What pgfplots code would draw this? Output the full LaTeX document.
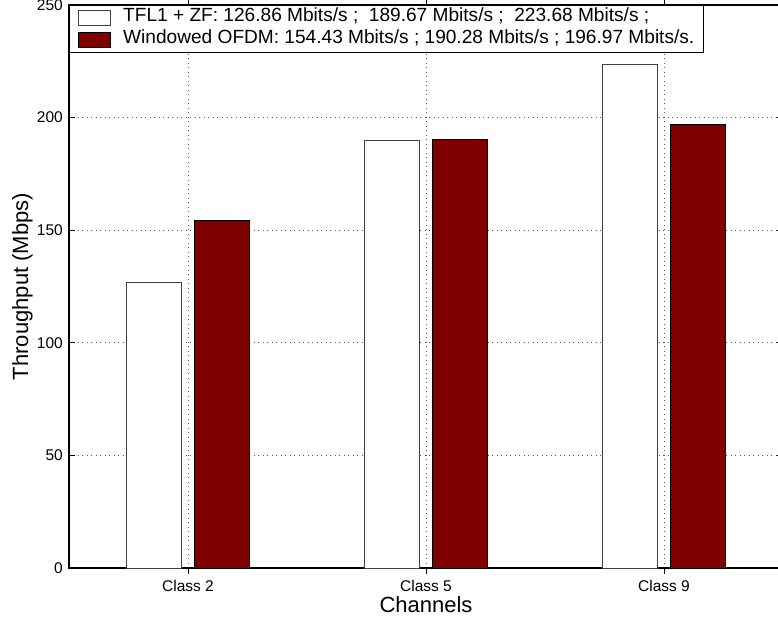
\documentclass[border=0pt]{standalone}
\usepackage{fontspec}
\setmainfont{Liberation Sans}
\usepackage{pgfplots}
\pgfplotsset{compat=1.18}
\definecolor{maroonbar}{RGB}{128,0,0}
\begin{document}
\begin{tikzpicture}
\path[use as bounding box] (-69bp,-55bp) rectangle (709bp,568bp);
\begin{axis}[
  at={(0,0)}, anchor=south west,
  scale only axis, width=714bp, height=563bp,
  xmin=0.5, xmax=3.5, ymin=0, ymax=250,
  xtick={1,2,3}, xticklabels={Class 2, Class 5, Class 9},
  ytick={0,50,100,150,200,250},
  /pgf/number format/assume math mode=true,
  grid=major,
  grid style={black!65, line width=0.8bp, dash pattern=on 1bp off 3.5bp},
  axis line style={black, line width=1.1bp},
  tick align=inside, major tick length=6bp,
  tick style={black, line width=0.8bp},
  tick label style={font=\fontsize{15.5bp}{18bp}\selectfont},
  xticklabel style={inner sep=0pt, anchor=north, yshift=-6bp},
  yticklabel style={inner sep=0pt, anchor=east, xshift=-6bp},
  xlabel={Channels},
  ylabel={Throughput (Mbps)},
  label style={font=\fontsize{22bp}{26bp}\selectfont},
  xlabel style={at={(axis description cs:0.5,-0.05)}, anchor=north, inner sep=0pt},
  ylabel style={at={(axis description cs:-0.0798,0.5)}, anchor=north, inner sep=0pt},
  ybar=13bp, bar width=55bp,
  legend cell align=left,
  legend image code/.code={\draw[#1] (0bp,-7.5bp) rectangle (32bp,7.5bp);},
  legend style={at={(axis description cs:0,1)}, anchor=north west,
    draw=black, line width=0.8bp, fill=white,
    font=\fontsize{19.1bp}{22bp}\selectfont,
    inner xsep=9bp, inner ysep=1.5bp, row sep=0pt,
    nodes={inner sep=0pt, text height=15bp, text depth=7bp},
    /tikz/every odd column/.append style={column sep=12bp}},
]
\addplot[draw=black!75, line width=0.8bp, fill=white] coordinates {(1,126.86) (2,189.67) (3,223.68)};
\addplot[draw=black, line width=0.8bp, fill=maroonbar] coordinates {(1,154.43) (2,190.28) (3,196.97)};
\legend{TFL1 + ZF: 126.86 Mbits/s ;\ \ 189.67 Mbits/s ;\ \ 223.68 Mbits/s ;, Windowed OFDM: 154.43 Mbits/s ; 190.28 Mbits/s ; 196.97 Mbits/s.}
\end{axis}
\end{tikzpicture}
\end{document}
